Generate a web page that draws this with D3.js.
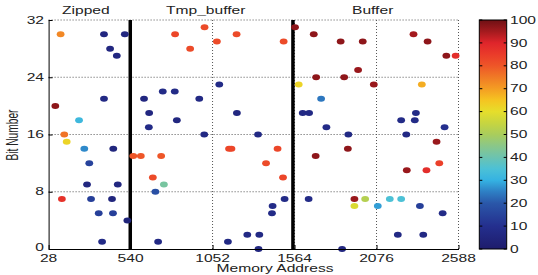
<!DOCTYPE html>
<html>
<head>
<meta charset="utf-8">
<script src="https://cdn.jsdelivr.net/npm/d3@7"></script>
<style>
  body { margin: 0; background: #fff; }
  svg text { font-family: "Liberation Sans", Arial, sans-serif; fill: #222; }
</style>
</head>
<body>
<div id="chart"></div>
<script>
'use strict';

// memory address, bit number and colour value for every dot
const addresses = [103, 374, 504, 412, 454, 374, 70, 218, 126, 141, 251, 432, 282, 268, 460, 111, 293, 424, 341, 430, 520, 362, 712,
  557, 604, 731, 679, 748, 695, 818, 624, 741, 816, 656, 654, 829,
  1002, 1079, 1202, 912, 1496, 1567, 1684, 1852, 1094, 969, 1204, 1000, 1336,
  1590, 1699, 1874, 1730, 1615, 1655, 1763, 1900, 1155, 1170, 1458, 1386, 1492, 1502, 1427, 1423,
  1269, 1344, 1148, 1339, 1861, 1696, 1897, 1652,
  1990, 2307, 2395, 2512, 2570, 1961, 2059, 2359, 2322, 2230, 2315, 2501, 2262, 2451, 2265, 2388, 2468,
  1938, 2005, 1938, 2084, 2159, 2230, 2347, 2489, 2209, 2368];
const bits = [30, 30, 30, 28, 27, 21, 20, 18, 16, 15, 14, 14, 12, 9, 9, 7, 7, 7, 5, 5, 4, 1, 1,
  13, 13, 13, 10, 9, 8, 30, 21, 22, 22, 19, 17, 18,
  31, 29, 30, 28, 29, 31, 30, 29, 23, 21, 19, 16, 16,
  23, 24, 24, 21, 19, 19, 17, 16, 14, 14, 14, 12, 10, 7, 6, 5,
  2, 2, 1, 0, 0, 13, 14, 7,
  29, 30, 29, 27, 27, 25, 23, 23, 19, 18, 18, 17, 16, 15, 11, 11, 12,
  7, 7, 6, 6, 7, 7, 6, 5, 2, 2];
const values = [73, 6, 6, 6, 6, 7, 97, 32, 76, 62, 26, 5, 15, 6, 6, 87, 14, 5, 14, 14, 4, 8, 7,
  80, 80, 80, 82, 42, 18, 83, 6, 8, 8, 6, 8, 6,
  82, 82, 82, 82, 82, 97, 97, 97, 8, 7, 6, 7, 7,
  62, 97, 97, 24, 7, 7, 8, 7, 83, 83, 83, 82, 83, 8, 8, 8,
  7, 7, 7, 6, 6, 97, 97, 8,
  97, 95, 97, 97, 88, 96, 96, 68, 8, 8, 8, 10, 7, 96, 96, 88, 84,
  96, 52, 58, 28, 35, 35, 14, 8, 7, 7];

const regionNames = ['Zipped', 'Tmp_buffer', 'Buffer'];
const regionLabelX = [62, 166, 352];
const boundaries = [538, 1554];

const xTicks = [28, 540, 1052, 1564, 2076, 2588];
const yTicks = [0, 8, 16, 24, 32];
const cTicks = [0, 10, 20, 30, 40, 50, 60, 70, 80, 90, 100];

// muted jet colormap, sampled from the colorbar
const cStops = [0, 10, 20, 25, 30, 35, 40, 45, 50, 55, 60, 65, 70, 75, 80, 85, 90, 95, 100];
const cColors = ['#1e1c6c', '#242f8e', '#2a57a9', '#2e7fc4', '#35b2e2', '#4cc1d6', '#6cc3b0', '#8ac789', '#a9cd5c',
  '#c7d540', '#e6de2b', '#f5c421', '#f49d23', '#f07a26', '#ee5628', '#ea3b2a', '#df252b', '#a41a1e', '#6e1014'];

const width = 538, height = 275;
const SX = 1.53;  // the picture is stretched sideways, text too
const FS = 10.2;

const svg = d3.select('#chart').append('svg').attr('width', width).attr('height', height);

const x = d3.scaleLinear().domain([28, 2588]).range([48.6, 458.5]);
const y = d3.scaleLinear().domain([0, 32]).range([249, 20]);
const color = d3.scaleLinear().domain(cStops).range(cColors).clamp(true);

function label(g, tx, ty, txt, anchor, rot) {
  return g.append('text')
    .attr('transform', 'translate(' + tx + ',' + ty + ') scale(' + SX + ',1)' + (rot ? ' rotate(-90)' : ''))
    .attr('text-anchor', anchor)
    .attr('font-size', FS)
    .text(txt);
}

// grid lines (dotted), including top and right edges
const grid = svg.append('g');
xTicks.slice(1).forEach(function (t) {
  grid.append('line').attr('x1', x(t)).attr('x2', x(t)).attr('y1', y(0)).attr('y2', y(32))
    .attr('stroke', '#555').attr('stroke-width', 1).attr('stroke-dasharray', '1,2');
});
yTicks.slice(1).forEach(function (t) {
  grid.append('line').attr('x1', x(28)).attr('x2', x(2588)).attr('y1', y(t)).attr('y2', y(t))
    .attr('stroke', '#555').attr('stroke-width', 1).attr('stroke-dasharray', '1,2');
});

// boundary lines between regions
boundaries.forEach(function (b) {
  svg.append('line').attr('x1', x(b)).attr('x2', x(b)).attr('y1', y(0)).attr('y2', y(32))
    .attr('stroke', '#000').attr('stroke-width', 3.5);
});

// dots
const pts = addresses.map(function (a, i) { return { a: a, b: bits[i], v: values[i] }; });
svg.append('g').selectAll('ellipse').data(pts).join('ellipse')
  .attr('cx', d => x(d.a))
  .attr('cy', d => y(d.b))
  .attr('rx', 3.9)
  .attr('ry', 3.0)
  .attr('fill', d => color(d.v));

// axes: bottom and left solid, ticks inward
const xAxis = svg.append('g').attr('transform', 'translate(0,' + y(0) + ')')
  .call(d3.axisBottom(x).tickValues(xTicks).tickSizeInner(-4).tickSizeOuter(0).tickFormat(''));
const yAxis = svg.append('g').attr('transform', 'translate(' + x(28) + ',0)')
  .call(d3.axisLeft(y).tickValues(yTicks).tickSizeInner(-4).tickSizeOuter(0).tickFormat(''));
[xAxis, yAxis].forEach(function (g) {
  g.select('.domain').attr('stroke', '#000');
  g.selectAll('.tick line').attr('stroke', '#000');
});

xTicks.forEach(function (t) { label(svg, x(t), 261.5, String(t), 'middle'); });
yTicks.forEach(function (t) { label(svg, 44, y(t) + (t === 0 ? 2.4 : 3.6), String(t), 'end'); });

label(svg, 275, 272, 'Memory Address', 'middle');
label(svg, 18, 135, 'Bit Number', 'middle', true);

regionNames.forEach(function (n, i) { label(svg, regionLabelX[i], 14, n, 'start'); });

// colorbar
const cb = { x0: 479.3, x1: 506.7 };
const cy = d3.scaleLinear().domain([0, 100]).range([249, 20]);
const grad = svg.append('defs').append('linearGradient').attr('id', 'cbar')
  .attr('x1', 0).attr('y1', 1).attr('x2', 0).attr('y2', 0);
cStops.forEach(function (s, i) {
  grad.append('stop').attr('offset', (s / 100)).attr('stop-color', cColors[i]);
});
svg.append('rect').attr('x', cb.x0).attr('y', cy(100)).attr('width', cb.x1 - cb.x0).attr('height', cy(0) - cy(100))
  .attr('fill', 'url(#cbar)').attr('stroke', '#000').attr('stroke-width', 1);
cTicks.forEach(function (t) {
  svg.append('line').attr('x1', cb.x1).attr('x2', cb.x1 - 3).attr('y1', cy(t)).attr('y2', cy(t)).attr('stroke', '#000');
  svg.append('line').attr('x1', cb.x0).attr('x2', cb.x0 + 3).attr('y1', cy(t)).attr('y2', cy(t)).attr('stroke', '#000');
  label(svg, 510, cy(t) + 3.6, String(t), 'start');
});
</script>
</body>
</html>
